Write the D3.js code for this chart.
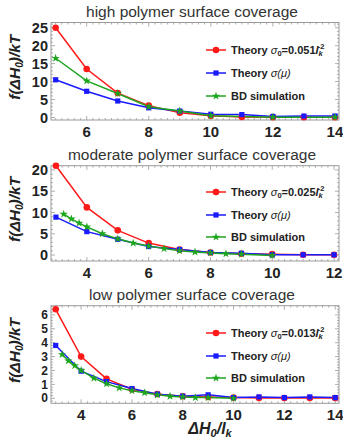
<!DOCTYPE html>
<html>
<head>
<meta charset="utf-8">
<script src="https://cdn.jsdelivr.net/npm/d3@7"></script>
<style>
  body { margin: 0; background: #fff; }
  svg { font-family: "Liberation Sans", Arial, sans-serif; }
</style>
</head>
<body>
<svg id="canvas" width="343" height="443"></svg>
<script>
// panel 1 : high coverage
let highX = [5, 6, 7, 8, 9, 10, 11, 12, 13, 14]
let highRed = [25, 13.5, 6.8, 3.3, 1.3, 0.5, 0.15, 0.1, 0.1, 0.05]
let highBlue = [10.5, 7.3, 4.6, 2.7, 1.8, 0.9, 0.8, 0.3, 0.4, 0.4]
let highGreenX = [5, 6, 7, 8, 9, 10, 12, 14]
let highGreen = [16.5, 10.2, 6.7, 3.0, 1.8, 0.5, 0.1, 0.1]

// panel 2 : moderate coverage
let modX = [3, 4, 5, 6, 7, 8, 9, 10, 11, 12]
let modRed = [21, 11.2, 5.8, 2.8, 1.3, 0.6, 0.3, 0.2, 0.05, 0.05]
let modBlue = [8.9, 5.5, 3.7, 2.0, 1.3, 0.6, 0.4, 0.05, 0.05, 0.05]
let modGreenX = [3.25, 3.5, 3.75, 4, 4.5, 5, 5.5, 6, 6.5, 7, 7.5, 8, 8.5, 9, 10]
let modGreen = [9.6, 8.5, 7.5, 6.6, 5.0, 3.8, 2.8, 2.1, 1.5, 1.0, 0.7, 0.5, 0.3, 0.2, -0.1]

// panel 3 : low coverage
let lowX = [3, 4, 5, 6, 7, 8, 9, 10, 11, 12, 13, 14]
let lowRed = [6.4, 3.0, 1.4, 0.65, 0.3, 0.15, 0.1, 0.05, 0.03, 0.02, 0.02, 0.02]
let lowBlue = [3.8, 1.95, 1.2, 0.7, 0.3, 0.15, 0.25, 0.05, 0.1, 0.05, 0.1, 0.05]
let lowGreenX = [3.25, 3.5, 3.75, 4, 4.5, 5, 5.5, 6, 6.5, 7, 7.5, 8, 8.5, 9, 10]
let lowGreen = [3.15, 2.7, 2.35, 2.0, 1.45, 1.05, 0.75, 0.55, 0.4, 0.25, 0.15, 0.1, 0.05, 0.05, 0.0]

let titles = ['high polymer surface coverage', 'moderate polymer surface coverage', 'low polymer surface coverage']
let sigmaLabels = ['0.051', '0.025', '0.013']

let canvas = d3.select('#canvas')

let panels = [
  { title: titles[0], sigma: sigmaLabels[0], top: 22.5, bottom: 120, xDom: [4.85, 14.13], yDom: [-0.7, 26.46],
    xTicks: [6, 8, 10, 12, 14], yTicks: [0, 5, 10, 15, 20, 25], xMinor: 0.2, yMinor: 1, yFont: 14.5,
    x: highX, red: highRed, blue: highBlue, gx: highGreenX, green: highGreen, legendY: [50, 73, 96] },
  { title: titles[1], sigma: sigmaLabels[1], top: 165.7, bottom: 261, xDom: [2.84, 12.16], yDom: [-1.41, 21.0],
    xTicks: [4, 6, 8, 10, 12], yTicks: [0, 5, 10, 15, 20], xMinor: 0.2, yMinor: 1, yFont: 14.5,
    x: modX, red: modRed, blue: modBlue, gx: modGreenX, green: modGreen, legendY: [192, 215, 237] },
  { title: titles[2], sigma: sigmaLabels[2], top: 305.7, bottom: 403.3, xDom: [2.815, 14.15], yDom: [-0.36, 6.66],
    xTicks: [4, 6, 8, 10, 12, 14], yTicks: [0, 1, 2, 3, 4, 5, 6], xMinor: 0.25, yMinor: 0.2, yFont: 12,
    x: lowX, red: lowRed, blue: lowBlue, gx: lowGreenX, green: lowGreen, legendY: [333, 356, 378] }
]

let left = 51
let right = 339
let frameColor = '#9a9a9a'

let drawMarkers = (parent, pts, s) => {
  pts.forEach((d) => {
    if (s.shape === 'circle') {
      parent.append('circle').attr('cx', d[0]).attr('cy', d[1]).attr('r', 3.3).attr('fill', s.color)
    } else if (s.shape === 'square') {
      parent.append('rect').attr('x', d[0] - 2.6).attr('y', d[1] - 2.6)
        .attr('width', 5.2).attr('height', 5.2).attr('fill', s.color)
    } else {
      parent.append('path')
        .attr('d', d3.symbol().type(d3.symbolStar).size(22)())
        .attr('transform', 'translate(' + d[0] + ',' + d[1] + ')')
        .attr('fill', s.color)
    }
  })
}

let drawPanel = (p) => {
  let xScale = d3.scaleLinear().domain(p.xDom).range([left, right])
  let yScale = d3.scaleLinear().domain(p.yDom).range([p.bottom, p.top])

  let g = canvas.append('g')

  // title
  g.append('text')
    .attr('x', 192)
    .attr('y', p.top - 5.5)
    .attr('text-anchor', 'middle')
    .style('font-size', '15.5px')
    .style('fill', '#333')
    .text(p.title)

  // minor + major ticks on all four sides
  let xMinorVals = d3.range(Math.ceil(p.xDom[0] / p.xMinor) * p.xMinor, p.xDom[1], p.xMinor)
  let yMinorVals = d3.range(Math.ceil(p.yDom[0] / p.yMinor) * p.yMinor, p.yDom[1], p.yMinor)

  let tickG = g.append('g').attr('stroke', frameColor).attr('stroke-width', 0.8)
  xMinorVals.forEach((v) => {
    let len = p.xTicks.some((t) => Math.abs(t - v) < 1e-6) ? 4 : 2
    tickG.append('line').attr('x1', xScale(v)).attr('x2', xScale(v))
      .attr('y1', p.bottom).attr('y2', p.bottom - len)
    tickG.append('line').attr('x1', xScale(v)).attr('x2', xScale(v))
      .attr('y1', p.top).attr('y2', p.top + len)
  })
  yMinorVals.forEach((v) => {
    let len = p.yTicks.some((t) => Math.abs(t - v) < 1e-6) ? 4 : 2
    tickG.append('line').attr('x1', left).attr('x2', left + len)
      .attr('y1', yScale(v)).attr('y2', yScale(v))
    tickG.append('line').attr('x1', right).attr('x2', right - len)
      .attr('y1', yScale(v)).attr('y2', yScale(v))
  })

  // frame
  g.append('rect')
    .attr('x', left).attr('y', p.top)
    .attr('width', right - left).attr('height', p.bottom - p.top)
    .attr('fill', 'none').attr('stroke', frameColor).attr('stroke-width', 1)

  // tick labels
  g.selectAll('.xl').data(p.xTicks).enter().append('text')
    .attr('x', (d) => xScale(d))
    .attr('y', p.bottom + 17)
    .attr('text-anchor', 'middle')
    .style('font-size', '15px').style('font-weight', 'bold').style('fill', '#222')
    .text((d) => d)
  g.selectAll('.yl').data(p.yTicks).enter().append('text')
    .attr('x', left - 3)
    .attr('y', (d) => yScale(d) + p.yFont * 0.35)
    .attr('text-anchor', 'end')
    .style('font-size', p.yFont + 'px').style('font-weight', 'bold').style('fill', '#222')
    .text((d) => d)

  // y axis title
  let ymid = (p.top + p.bottom) / 2 - 4
  let yt = g.append('text')
    .attr('transform', 'translate(20,' + ymid + ') rotate(-90)')
    .attr('text-anchor', 'middle')
    .style('font-size', '15.5px').style('font-weight', 'bold').style('font-style', 'italic').style('fill', '#222')
  yt.append('tspan').text('f(ΔH')
  yt.append('tspan').attr('dy', 3).style('font-size', '10px').text('0')
  yt.append('tspan').attr('dy', -3).text(')/kT')

  let line = d3.line().x((d) => xScale(d[0])).y((d) => yScale(d[1]))

  let series = [
    { xs: p.x, ys: p.red, color: '#ff1a1a', shape: 'circle' },
    { xs: p.x, ys: p.blue, color: '#1a1aff', shape: 'square' },
    { xs: p.gx, ys: p.green, color: '#1ea51e', shape: 'star' }
  ]

  let plotG = g.append('g')
  series.forEach((s) => {
    let pts = s.xs.map((x, i) => [x, s.ys[i]])
    plotG.append('path').datum(pts)
      .attr('d', line).attr('fill', 'none')
      .attr('stroke', s.color).attr('stroke-width', 1.5)
  })
  series.forEach((s) => {
    let pts = s.xs.map((x, i) => [x, s.ys[i]])
    drawMarkers(plotG, pts.map((d) => [xScale(d[0]), yScale(d[1])]), s)
  })

  // legend
  series.forEach((s, i) => {
    let ly = p.legendY[i]
    g.append('line').attr('x1', 206).attr('x2', 226).attr('y1', ly).attr('y2', ly)
      .attr('stroke', s.color).attr('stroke-width', 1.5)
    drawMarkers(g, [[216, ly]], s)
    let t = g.append('text').attr('x', 231).attr('y', ly + 3.8)
      .style('font-size', '11px').style('font-weight', 'bold').style('fill', '#222')
    if (i === 0) {
      t.append('tspan').text('Theory ')
      t.append('tspan').style('font-style', 'italic').style('font-weight', 'normal').text('σ')
      t.append('tspan').attr('dy', 2).style('font-size', '7.5px').text('0')
      t.append('tspan').attr('dy', -2).text('=' + p.sigma)
      t.append('tspan').style('font-style', 'italic').text('l')
      t.append('tspan').attr('dy', 2.5).style('font-size', '7.5px').style('font-style', 'italic').text('k')
      t.append('tspan').attr('dx', -5).attr('dy', -7.5).style('font-size', '7.5px').text('-2')
    } else if (i === 1) {
      t.append('tspan').text('Theory ')
      t.append('tspan').style('font-style', 'italic').style('font-weight', 'normal').text('σ(μ)')
    } else {
      t.text('BD simulation')
    }
  })
}

panels.forEach((p) => drawPanel(p))

// x axis title (bottom panel only)
let xt = canvas.append('text')
  .attr('x', 210).attr('y', 434)
  .attr('text-anchor', 'middle')
  .style('font-size', '16px').style('font-weight', 'bold').style('font-style', 'italic').style('fill', '#222')
xt.append('tspan').text('ΔH')
xt.append('tspan').attr('dy', 3).style('font-size', '11px').text('0')
xt.append('tspan').attr('dy', -3).text('/l')
xt.append('tspan').attr('dy', 3).style('font-size', '11px').text('k')
</script>
</body>
</html>
